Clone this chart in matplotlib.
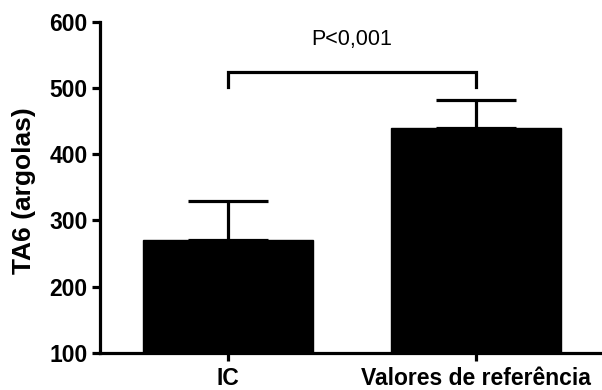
import matplotlib
matplotlib.use("Agg")
import matplotlib.pyplot as plt

categories = ["IC", "Valores de referência"]
means = [270, 440]
upper_err = [59, 42]
y_ticks = [100, 200, 300, 400, 500, 600]
p_text = "P<0,001"
bracket_y = 524
bracket_leg_y = 502
p_text_y = 574

plt.rcParams['font.family'] = ['Liberation Sans', 'DejaVu Sans']

fig = plt.figure(figsize=(6.02, 3.9), dpi=100)
ax = fig.add_axes([0.166, 0.0956, 0.834, 0.8484])

x = list(range(len(categories)))
lw = 2.3
ax.bar(x, [m - 100 for m in means], bottom=100, width=0.683, color='black', edgecolor='black')
ax.errorbar(x, means, yerr=[[0, 0], upper_err], fmt='none', ecolor='black',
            elinewidth=lw, capsize=29, capthick=lw)

# significance bracket
ax.plot([x[0], x[0], x[1], x[1]], [bracket_leg_y, bracket_y, bracket_y, bracket_leg_y],
        color='black', lw=lw, solid_joinstyle='miter')
ax.text((x[0] + x[1]) / 2, p_text_y, p_text, ha='center', va='center', fontsize=15.5)

ax.set_ylim(100, 600)
ax.set_xlim(-0.514, 1.505)
ax.set_yticks(y_ticks)
ax.set_xticks(x)
ax.set_xticklabels(categories, fontsize=16.5, fontweight='bold')
for lab in ax.get_yticklabels():
    lab.set_fontsize(16.5)
    lab.set_fontweight('bold')
ax.set_ylabel("TA6 (argolas)", fontsize=19, fontweight='bold')
ax.yaxis.set_label_coords(-0.128, 0.49)

for s in ['top', 'right']:
    ax.spines[s].set_visible(False)
for s in ['left', 'bottom']:
    ax.spines[s].set_linewidth(lw)
ax.tick_params(axis='both', width=lw, length=6)
ax.tick_params(axis='y', pad=3)
ax.tick_params(axis='x', pad=4)

fig.savefig("out.png", dpi=100)
